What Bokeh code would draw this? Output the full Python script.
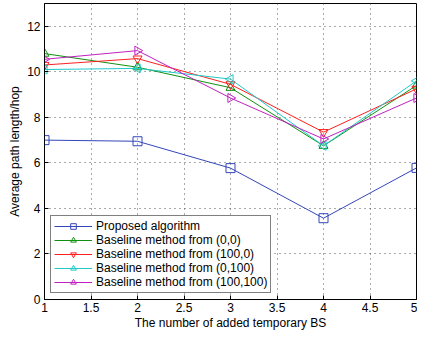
import math
from bokeh.plotting import figure
from bokeh.models import Range1d, Legend, LegendItem, FixedTicker, ColumnDataSource
from bokeh.embed import file_html
from bokeh.resources import INLINE

x_vals = [1, 2, 3, 4, 5]
proposed = [7.0, 6.95, 5.77, 3.57, 5.78]
base_0_0 = [10.8, 10.2, 9.3, 6.75, 9.4]
base_100_0 = [10.3, 10.58, 9.45, 7.35, 9.25]
base_0_100 = [10.1, 10.15, 9.68, 6.75, 9.6]
base_100_100 = [10.55, 10.93, 8.85, 7.05, 8.85]

labels = ["Proposed algorithm", "Baseline method from (0,0)", "Baseline method from (100,0)",
          "Baseline method from (0,100)", "Baseline method from (100,100)"]
colors = ["#3346b8", "#109010", "#ff2020", "#20c8c8", "#c020c0"]
markers = [("square", 0.0), ("triangle", 0.0), ("inverted_triangle", 0.0),
           ("triangle", math.pi / 2), ("triangle", -math.pi / 2)]
series = [proposed, base_0_0, base_100_0, base_0_100, base_100_100]

x_ticks = [1, 1.5, 2, 2.5, 3, 3.5, 4, 4.5, 5]
y_ticks = [0, 2, 4, 6, 8, 10, 12]

FONT = "Liberation Sans"

p = figure(width=417, height=332, output_backend="svg", toolbar_location=None,
           x_range=Range1d(1, 5), y_range=Range1d(0, 13),
           min_border_left=44, min_border_right=1, min_border_top=3, min_border_bottom=30)

p.outline_line_color = "black"
p.outline_line_width = 1
p.background_fill_color = "white"
p.border_fill_color = "white"

for ax in (p.xaxis[0], p.yaxis[0]):
    ax.major_tick_in = 4
    ax.major_tick_out = 0
    ax.minor_tick_in = 0
    ax.minor_tick_out = 0
    ax.axis_line_color = "black"
    ax.major_tick_line_color = "black"
    ax.major_label_text_font = FONT
    ax.major_label_text_font_size = "12px"
    ax.major_label_text_color = "black"
    ax.axis_label_text_font = FONT
    ax.axis_label_text_font_size = "12px"
    ax.axis_label_text_font_style = "normal"
    ax.axis_label_text_color = "black"

p.xaxis[0].ticker = FixedTicker(ticks=x_ticks)
p.yaxis[0].ticker = FixedTicker(ticks=y_ticks)
p.xaxis[0].major_label_overrides = {1: "1", 2: "2", 3: "3", 4: "4", 5: "5"}
p.xaxis[0].axis_label = "The number of added temporary BS"
p.yaxis[0].axis_label = "Average path length/hop"
p.xaxis[0].axis_label_standoff = 1
p.yaxis[0].axis_label_standoff = 2
p.xaxis[0].major_label_standoff = 3
p.yaxis[0].major_label_standoff = 4

p.xgrid.ticker = FixedTicker(ticks=x_ticks)
p.ygrid.ticker = FixedTicker(ticks=y_ticks)
for g in (p.xgrid[0], p.ygrid[0]):
    g.grid_line_color = "#444444"
    g.grid_line_dash = "1 4"
    g.grid_line_width = 1
    g.grid_line_alpha = 0.9

items = []
for ys, lab, col, (mk, ang) in zip(series, labels, colors, markers):
    src = ColumnDataSource(dict(x=x_vals, y=ys, a=[ang] * len(x_vals)))
    r1 = p.line("x", "y", source=src, line_color=col, line_width=1)
    r2 = p.scatter("x", "y", source=src, marker=mk, angle="a", size=9, line_color=col,
                   fill_color=None, line_width=1)
    items.append(LegendItem(label=lab, renderers=[r1, r2], index=0))

legend = Legend(items=items, location="bottom_left")
legend.label_text_font = FONT
legend.label_text_font_size = "12px"
legend.label_text_color = "black"
legend.border_line_color = "black"
legend.border_line_width = 1.5
legend.glyph_width = 38
legend.glyph_height = 14
legend.label_height = 14
legend.spacing = 0
legend.padding = 3
legend.margin = 6
legend.label_standoff = 4
legend.background_fill_alpha = 1
p.add_layout(legend, "center")

html = file_html(p, INLINE)
open("out.html", "w").write(html)
